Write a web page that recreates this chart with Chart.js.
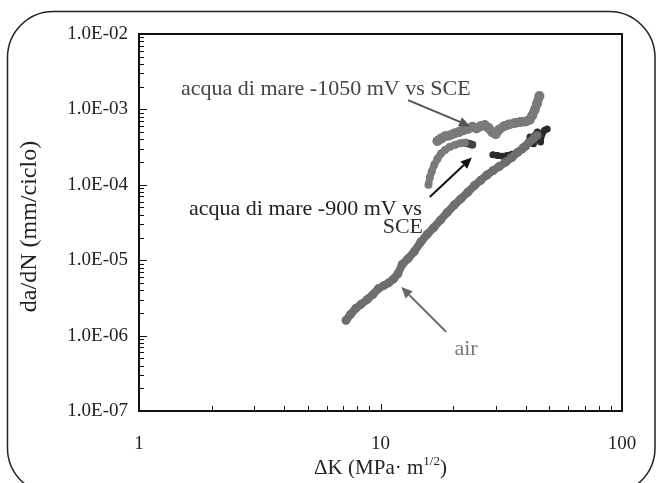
<!DOCTYPE html>
<html>
<head>
<meta charset="utf-8">
<script src="https://cdn.jsdelivr.net/npm/chart.js@4.4.1/dist/chart.umd.min.js"></script>
<style>
  html, body { margin: 0; padding: 0; background: #ffffff; }
  #wrap { width: 662px; height: 483px; position: relative; }
</style>
</head>
<body>
<div id="wrap"><canvas id="c"></canvas></div>
<script>
// ---------- data ----------
const K_AIR = [7.2, 7.5, 7.9, 8.3, 8.8, 9.3, 9.8, 10.3, 10.8, 11.3, 11.8, 12.3, 13.0, 13.8, 14.7, 15.6, 16.6, 17.7, 18.9, 20.2, 21.5, 23.0, 24.5, 26.0, 27.6, 29.3, 31.0, 33.0, 35.0, 37.0, 39.0, 41.0, 43.0, 44.5];
const DA_AIR = [1.6e-6, 1.9e-6, 2.3e-6, 2.6e-6, 3.0e-6, 3.5e-6, 4.2e-6, 4.6e-6, 5.0e-6, 5.6e-6, 6.6e-6, 8.8e-6, 1.05e-5, 1.3e-5, 1.75e-5, 2.2e-5, 2.7e-5, 3.4e-5, 4.3e-5, 5.4e-5, 6.5e-5, 8.0e-5, 9.8e-5, 1.15e-4, 1.35e-4, 1.55e-4, 1.75e-4, 2.0e-4, 2.3e-4, 2.7e-4, 3.1e-4, 3.6e-4, 4.1e-4, 4.5e-4];

const K_1050 = [17.2, 17.8, 18.5, 19.3, 20.2, 21.1, 22.0, 23.0, 24.0, 25.0, 26.0, 27.0, 28.0, 29.0, 30.0, 31.0, 32.5, 34.0, 36.0, 38.0, 40.0, 41.5, 42.5, 43.5, 44.5, 45.5];
const DA_1050 = [3.8e-4, 4.1e-4, 4.4e-4, 4.5e-4, 4.8e-4, 5.0e-4, 5.3e-4, 5.5e-4, 5.9e-4, 5.6e-4, 6.0e-4, 6.2e-4, 5.7e-4, 5.0e-4, 4.7e-4, 5.4e-4, 6.0e-4, 6.3e-4, 6.6e-4, 6.8e-4, 6.9e-4, 7.3e-4, 8.3e-4, 9.8e-4, 1.2e-3, 1.5e-3];
const K_1050_HOOK = [15.8, 16.0, 16.3, 16.7, 17.2, 17.8, 18.5, 19.4, 20.4, 21.4, 22.3];
const DA_1050_HOOK = [1.0e-4, 1.25e-4, 1.5e-4, 1.85e-4, 2.2e-4, 2.6e-4, 2.9e-4, 3.2e-4, 3.4e-4, 3.55e-4, 3.6e-4];

const K_900_A = [22.5, 23.3, 24.0];
const DA_900_A = [3.6e-4, 3.5e-4, 3.4e-4];
const K_900 = [29.2, 30.5, 32.0, 33.4, 35.0, 36.7, 38.5, 40.0, 41.0, 41.6, 42.3, 43.0, 43.8, 44.6, 45.3, 46.0, 46.8, 47.8, 49.0];
const DA_900 = [2.5e-4, 2.45e-4, 2.4e-4, 2.45e-4, 2.55e-4, 2.65e-4, 2.9e-4, 3.2e-4, 3.6e-4, 4.3e-4, 3.8e-4, 3.5e-4, 4.6e-4, 5.0e-4, 4.0e-4, 3.7e-4, 4.8e-4, 5.3e-4, 5.5e-4];

const X_TICKS = [1, 10, 100];
const X_TICK_LABELS = ['1', '10', '100'];
const Y_TICKS = [1e-7, 1e-6, 1e-5, 1e-4, 1e-3, 1e-2];
const Y_TICK_LABELS = ['1.0E-07', '1.0E-06', '1.0E-05', '1.0E-04', '1.0E-03', '1.0E-02'];

const Y_TITLE = 'da/dN (mm/ciclo)';
const X_TITLE_MAIN = '\u0394K (MPa\u00b7 m';
const X_TITLE_SUP = '1/2';
const X_TITLE_END = ')';

// annotations (arrows given in data coordinates)
const LABELS = [
  { text: 'acqua di mare -1050 mV vs SCE', px: 181, py: 89, align: 'left', color: '#444444' },
  { text: 'acqua di mare -900 mV vs', px: 189, py: 209, align: 'left', color: '#222222' },
  { text: 'SCE', px: 423, py: 227, align: 'right', color: '#333333' },
  { text: 'air', px: 466, py: 349, align: 'center', color: '#777777' }
];
const ARROWS = [
  { from: [13.0, 1.33e-3], to: [23.5, 6.0e-4], color: '#555555' },
  { from: [16.0, 6.9e-5], to: [23.9, 2.3e-4], color: '#111111' },
  { from: [18.7, 1.12e-6], to: [12.2, 4.4e-6], color: '#666666' }
];

const SERIF = '"Liberation Serif", "Times New Roman", "DejaVu Serif", serif';

function pts(xs, ys) { return xs.map((x, i) => ({ x: x, y: ys[i] })); }

function band(label, xs, ys, color, w) {
  return {
    label: label,
    data: pts(xs, ys),
    borderColor: color,
    backgroundColor: color,
    borderWidth: w,
    pointRadius: w / 2 + 0.5,
    pointBorderWidth: 0,
    pointHoverRadius: 0,
    borderJoinStyle: 'round',
    borderCapStyle: 'round',
    tension: 0,
    showLine: true
  };
}

const decorPlugin = {
  id: 'decor',
  beforeDraw(chart) {
    const ctx = chart.ctx;
    ctx.save();
    ctx.fillStyle = '#ffffff';
    ctx.fillRect(0, 0, chart.width, chart.height);
    // rounded outer frame
    const x0 = 7.5, y0 = 11.5, x1 = 655, y1 = 494, r = 46;
    ctx.beginPath();
    ctx.moveTo(x0 + r, y0);
    ctx.lineTo(x1 - r, y0);
    ctx.arcTo(x1, y0, x1, y0 + r, r);
    ctx.lineTo(x1, y1 - r);
    ctx.arcTo(x1, y1, x1 - r, y1, r);
    ctx.lineTo(x0 + r, y1);
    ctx.arcTo(x0, y1, x0, y1 - r, r);
    ctx.lineTo(x0, y0 + r);
    ctx.arcTo(x0, y0, x0 + r, y0, r);
    ctx.closePath();
    ctx.strokeStyle = '#222222';
    ctx.lineWidth = 1.5;
    ctx.stroke();
    ctx.restore();
  },
  beforeDatasetsDraw(chart) {
    const ctx = chart.ctx;
    const a = chart.chartArea;
    const xs = chart.scales.x, ys = chart.scales.y;
    ctx.save();
    ctx.strokeStyle = '#111111';
    ctx.lineWidth = 1;
    // x minor/major ticks (inside)
    for (let d = 0; d <= 2; d++) {
      for (let m = 1; m <= 9; m++) {
        const v = m * Math.pow(10, d);
        if (v <= 1 || v >= 100) continue;
        const p = Math.round(xs.getPixelForValue(v)) + 0.5;
        ctx.beginPath();
        ctx.moveTo(p, a.bottom);
        ctx.lineTo(p, a.bottom - (m === 1 ? 7 : 5));
        ctx.stroke();
      }
    }
    // y minor/major ticks (inside)
    for (let d = -7; d <= -2; d++) {
      for (let m = 1; m <= 9; m++) {
        const v = m * Math.pow(10, d);
        if (v <= 1e-7 * 1.0001 || v >= 1e-2 * 0.9999) continue;
        const p = Math.round(ys.getPixelForValue(v)) + 0.5;
        ctx.beginPath();
        ctx.moveTo(a.left, p);
        ctx.lineTo(a.left + (m === 1 ? 8 : 5), p);
        ctx.stroke();
      }
    }
    ctx.restore();
  },
  afterDatasetsDraw(chart) {
    const ctx = chart.ctx;
    const a = chart.chartArea;
    const xs = chart.scales.x, ys = chart.scales.y;
    ctx.save();
    // plot frame
    ctx.strokeStyle = '#111111';
    ctx.lineWidth = 2;
    ctx.strokeRect(a.left, a.top, a.right - a.left, a.bottom - a.top);

    // arrows
    ARROWS.forEach(ar => {
      const x1 = xs.getPixelForValue(ar.from[0]), y1 = ys.getPixelForValue(ar.from[1]);
      const x2 = xs.getPixelForValue(ar.to[0]), y2 = ys.getPixelForValue(ar.to[1]);
      const ang = Math.atan2(y2 - y1, x2 - x1);
      const hl = 11, hw = 5;
      const bx = x2 - hl * Math.cos(ang), by = y2 - hl * Math.sin(ang);
      ctx.strokeStyle = ar.color;
      ctx.fillStyle = ar.color;
      ctx.lineWidth = 2;
      ctx.beginPath();
      ctx.moveTo(x1, y1);
      ctx.lineTo(bx, by);
      ctx.stroke();
      ctx.beginPath();
      ctx.moveTo(x2, y2);
      ctx.lineTo(bx + hw * Math.sin(ang), by - hw * Math.cos(ang));
      ctx.lineTo(bx - hw * Math.sin(ang), by + hw * Math.cos(ang));
      ctx.closePath();
      ctx.fill();
    });

    // annotation labels
    ctx.font = '22px ' + SERIF;
    ctx.textBaseline = 'middle';
    LABELS.forEach(l => {
      ctx.fillStyle = l.color;
      ctx.textAlign = l.align;
      ctx.fillText(l.text, l.px, l.py);
    });

    // x axis title with superscript
    const f1 = '21px ' + SERIF, f2 = '13px ' + SERIF;
    ctx.font = f1; const w1 = ctx.measureText(X_TITLE_MAIN).width; const w3 = ctx.measureText(X_TITLE_END).width;
    ctx.font = f2; const w2 = ctx.measureText(X_TITLE_SUP).width;
    const cx = (a.left + a.right) / 2;
    let sx = cx - (w1 + w2 + w3) / 2;
    const base = 474;
    ctx.fillStyle = '#222222';
    ctx.textAlign = 'left';
    ctx.textBaseline = 'alphabetic';
    ctx.font = f1; ctx.fillText(X_TITLE_MAIN, sx, base); sx += w1;
    ctx.font = f2; ctx.fillText(X_TITLE_SUP, sx, base - 9); sx += w2;
    ctx.font = f1; ctx.fillText(X_TITLE_END, sx, base);

    // y axis title
    ctx.save();
    ctx.translate(30, (a.top + a.bottom) / 2 + 4);
    ctx.rotate(-Math.PI / 2);
    ctx.font = '24px ' + SERIF;
    ctx.textAlign = 'center';
    ctx.textBaseline = 'middle';
    ctx.fillText(Y_TITLE, 0, 0);
    ctx.restore();

    ctx.restore();
  }
};

new Chart(document.getElementById('c'), {
  type: 'line',
  data: {
    datasets: [
      band('air', K_AIR, DA_AIR, '#6e6e6e', 8),
      band('acqua di mare -1050 mV vs SCE', K_1050, DA_1050, '#7a7a7a', 9),
      band('acqua di mare -1050 mV vs SCE (b)', K_1050_HOOK, DA_1050_HOOK, '#7a7a7a', 7),
      band('acqua di mare -900 mV vs SCE (a)', K_900_A, DA_900_A, '#444444', 7),
      band('acqua di mare -900 mV vs SCE', K_900, DA_900, '#2a2a2a', 6)
    ]
  },
  options: {
    responsive: true,
    maintainAspectRatio: false,
    animation: false,
    events: [],
    layout: { padding: { left: 0, top: 34, right: 40, bottom: 0 } },
    plugins: { legend: { display: false }, tooltip: { enabled: false } },
    scales: {
      x: {
        type: 'logarithmic',
        position: 'bottom',
        min: 1, max: 100,
        grid: { display: false, drawTicks: false },
        border: { display: false },
        afterBuildTicks(s) { s.ticks = X_TICKS.map(v => ({ value: v })); },
        afterFit(s) { s.height = 72; },
        ticks: {
          autoSkip: false, maxRotation: 0, padding: 22,
          color: '#222222',
          font: { family: SERIF, size: 19 },
          callback(v) { const i = X_TICKS.indexOf(v); return i >= 0 ? X_TICK_LABELS[i] : ''; }
        }
      },
      y: {
        type: 'logarithmic',
        position: 'left',
        min: 1e-7, max: 1e-2,
        grid: { display: false, drawTicks: false },
        border: { display: false },
        afterBuildTicks(s) { s.ticks = Y_TICKS.map(v => ({ value: v })); },
        afterFit(s) { s.width = 139; },
        ticks: {
          autoSkip: false, padding: 11,
          color: '#222222',
          font: { family: SERIF, size: 19 },
          callback(v) {
            const i = Y_TICKS.findIndex(t => Math.abs(Math.log10(t) - Math.log10(v)) < 1e-6);
            return i >= 0 ? Y_TICK_LABELS[i] : '';
          }
        }
      }
    }
  },
  plugins: [decorPlugin]
});
</script>
</body>
</html>
